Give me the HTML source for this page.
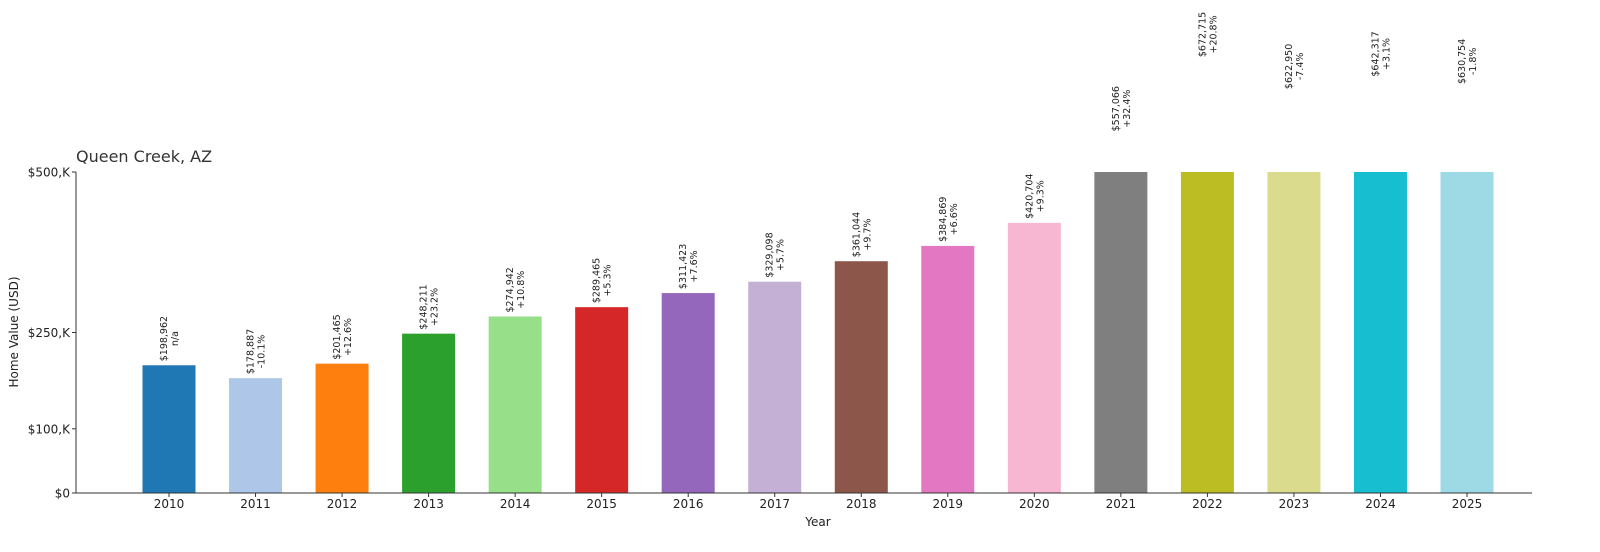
<!DOCTYPE html>
<html><head><meta charset="utf-8"><style>
body{margin:0;background:#fff}
svg{font-family:"DejaVu Sans","Liberation Sans",sans-serif}
</style></head><body>
<svg id="chart" width="1600" height="547" xmlns="http://www.w3.org/2000/svg">
<text x="76" y="162" font-size="16" fill="#333">Queen Creek, AZ</text>
<text transform="translate(18,332) rotate(-90)" text-anchor="middle" font-size="12" fill="#222">Home Value (USD)</text>
<text x="818" y="526" text-anchor="middle" font-size="12" fill="#222">Year</text>
<g id="bars"></g>
<g id="axes"></g>
</svg>
<script>
const years=["2010","2011","2012","2013","2014","2015","2016","2017","2018","2019","2020","2021","2022","2023","2024","2025"];
const values=[198962,178887,201465,248211,274942,289465,311423,329098,361044,384869,420704,557066,672715,622950,642317,630754];
const changes=["n/a","-10.1%","+12.6%","+23.2%","+10.8%","+5.3%","+7.6%","+5.7%","+9.7%","+6.6%","+9.3%","+32.4%","+20.8%","-7.4%","+3.1%","-1.8%"];
const colors=["#1f77b4","#aec7e8","#ff7f0e","#2ca02c","#98df8a","#d62728","#9467bd","#c5b0d5","#8c564b","#e377c2","#f7b6d2","#7f7f7f","#bcbd22","#dbdb8d","#17becf","#9edae5"];
const yTicks=[0,100000,250000,500000];
const yTickLabels=["$0","$100,K","$250,K","$500,K"];
const NS="http://www.w3.org/2000/svg";
const yMax=500000, y0=493, y1=172;
const yS=v=>y0-(v/yMax)*(y0-y1);
const xS=i=>169+i*((1467-169)/15);
const bw=53;
function mk(t,a,p){const e=document.createElementNS(NS,t);for(const k in a)e.setAttribute(k,a[k]);p.appendChild(e);return e;}
const bars=document.getElementById('bars'), axes=document.getElementById('axes');
values.forEach((v,i)=>{
  const cx=xS(i), top=yS(Math.min(v,yMax));
  const r=mk('rect',{x:cx-bw/2,y:top,width:bw,height:y0-top,fill:colors[i]},bars);
  
  
  const ty=yS(v)-4;
  const lbl='$'+v.toLocaleString('en-US');
  const g=mk('g',{},bars);
  
  
  const t1=mk('text',{'font-size':'9.5',fill:'#222','text-anchor':'middle'},g);t1.textContent=lbl;
  const t2=mk('text',{'font-size':'9.5',fill:'#222','text-anchor':'middle'},g);t2.textContent=changes[i];
  const L=Math.max(t1.getComputedTextLength(),t2.getComputedTextLength());
  const cy=ty-L/2;
  t1.setAttribute('transform',`translate(${cx-2},${cy}) rotate(-90)`);
  t2.setAttribute('transform',`translate(${cx+9},${cy}) rotate(-90)`);
  const xl=mk('text',{x:cx,y:508,'text-anchor':'middle','font-size':'12',fill:'#222'},axes);xl.textContent=years[i];
  
  
  mk('line',{x1:cx,x2:cx,y1:y0,y2:y0+4,stroke:'#333'},axes);
});
yTicks.forEach((v,i)=>{
  const y=yS(v);
  mk('line',{x1:72,x2:76,y1:y,y2:y,stroke:'#333'},axes);
  const t=mk('text',{x:70,y:y+4.5,'text-anchor':'end','font-size':'12',fill:'#222'},axes);t.textContent=yTickLabels[i];
  
  
});
const ya=mk('line',{x1:76,x2:76,y1:y1,y2:y0,stroke:'#333'},axes);


const xa=mk('line',{x1:76,x2:1532,y1:y0,y2:y0,stroke:'#333'},axes);


</script>
</body></html>
